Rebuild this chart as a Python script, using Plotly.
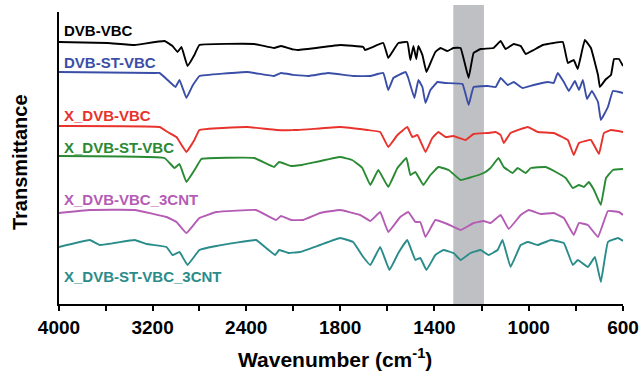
import plotly.graph_objects as go

# ---- data (wavenumber in cm-1, transmittance in arbitrary offset units) ----
dvb_vbc_wn = [4000, 3583, 3353, 3098, 3030, 2987, 2953, 2902, 2843, 2800, 2332, 2162, 2102, 1979, 1800,
              1702, 1694, 1617, 1596, 1579, 1553, 1515, 1502, 1489, 1477, 1468, 1451, 1434, 1417, 1396,
              1374, 1345, 1319, 1289, 1255, 1234, 1204, 1149, 1119, 1098, 1064, 1034, 1013, 979, 940,
              894, 855, 834, 809, 792, 762, 736, 706, 698, 672, 651, 638, 617, 600]
dvb_vbc_t = [262, 261, 259, 263, 258, 252, 257, 238, 249, 259, 260, 256, 258, 254, 259,
             257, 254, 261, 246, 252, 261, 262, 244, 258, 245, 258, 249, 232, 241, 252,
             256, 253, 256, 256, 226, 251, 255, 256, 263, 255, 260, 258, 250, 254, 259,
             261, 262, 241, 244, 235, 264, 256, 229, 217, 225, 229, 245, 245, 238]

dvb_st_vbc_wn = [4000, 3183, 3140, 3072, 3004, 2970, 2911, 2860, 2826, 2800, 2391, 2162, 2102, 1936, 1851,
                 1745, 1672, 1617, 1596, 1574, 1523, 1511, 1485, 1468, 1451, 1438, 1417, 1387, 1353, 1281,
                 1255, 1234, 1174, 1140, 1119, 1089, 1064, 1026, 979, 919, 894, 877, 851, 830, 804,
                 787, 770, 753, 732, 706, 694, 664, 643, 600]
dvb_st_vbc_t = [232, 231, 231, 224, 217, 224, 206, 218, 224, 228, 232, 228, 231, 228, 231,
                228, 228, 231, 214, 226, 232, 226, 206, 224, 217, 201, 214, 222, 221, 220,
                199, 217, 218, 217, 226, 219, 222, 216, 219, 222, 221, 231, 222, 213, 223,
                214, 224, 205, 213, 202, 184, 197, 213, 211]

x_dvb_vbc_wn = [4000, 3140, 3072, 2996, 2911, 2843, 2800, 2391, 2145, 1979, 1800, 1685, 1630, 1596, 1557,
                1515, 1494, 1472, 1438, 1409, 1383, 1353, 1319, 1268, 1234, 1174, 1140, 1119, 1106, 1077,
                1004, 962, 894, 834, 809, 787, 736, 702, 681, 651, 600]
x_dvb_vbc_t = [178, 177, 172, 167, 152, 164, 174, 177, 174, 174, 177, 174, 172, 157, 169,
               177, 167, 169, 152, 166, 172, 167, 168, 164, 170, 171, 172, 169, 161, 171,
               177, 172, 171, 164, 149, 161, 164, 150, 171, 174, 172]

x_dvb_st_vbc_wn = [4000, 3098, 3013, 2970, 2911, 2826, 2783, 2332, 2162, 2119, 2017, 1962, 1800, 1749, 1706,
                   1672, 1638, 1596, 1557, 1519, 1502, 1481, 1447, 1417, 1383, 1340, 1289, 1255, 1191, 1162,
                   1128, 1106, 1068, 1047, 1013, 991, 928, 885, 843, 813, 787, 766, 745, 723, 694,
                   672, 643, 600]
x_dvb_st_vbc_t = [148, 146, 136, 140, 122, 137, 145, 146, 137, 142, 138, 139, 147, 144, 136,
                  119, 134, 117, 136, 146, 129, 132, 119, 129, 137, 134, 124, 126, 131, 136,
                  146, 137, 131, 136, 131, 136, 137, 132, 126, 116, 119, 117, 122, 114, 99,
                  126, 134, 135]

x_dvb_vbc_3cnt_wn = [4000, 3736, 3353, 3081, 2996, 2911, 2800, 2655, 2315, 2145, 2102, 2017, 1957, 1885, 1800,
                     1715, 1672, 1630, 1596, 1545, 1511, 1481, 1460, 1438, 1396, 1345, 1289, 1234, 1191, 1162,
                     1119, 1085, 1034, 1000, 949, 894, 851, 809, 787, 749, 706, 664, 617, 600]
x_dvb_vbc_3cnt_t = [91, 94, 94, 87, 82, 71, 86, 92, 94, 84, 88, 84, 84, 91, 94,
                    89, 83, 92, 72, 87, 92, 82, 82, 67, 84, 80, 74, 81, 83, 81,
                    89, 75, 89, 94, 90, 91, 86, 69, 81, 79, 67, 93, 92, 89]

x_dvb_st_vbc_3cnt_wn = [4000, 3736, 3651, 3353, 3251, 3081, 3030, 2970, 2902, 2800, 2655, 2315, 2230, 2153, 2119,
                        2034, 1970, 1885, 1800, 1745, 1702, 1672, 1630, 1591, 1553, 1515, 1481, 1460, 1434, 1396,
                        1362, 1319, 1289, 1247, 1204, 1170, 1132, 1111, 1077, 1034, 1004, 962, 906, 851, 813,
                        792, 749, 719, 694, 664, 621, 600]
x_dvb_st_vbc_3cnt_t = [57, 64, 59, 64, 60, 57, 49, 52, 39, 54, 58, 64, 56, 49, 54,
                       51, 52, 59, 66, 62, 47, 39, 57, 34, 51, 64, 44, 46, 34, 49,
                       54, 51, 44, 51, 54, 49, 54, 64, 37, 59, 62, 59, 64, 61, 39,
                       44, 37, 47, 22, 62, 66, 63]

series_names = ["DVB-VBC", "DVB-ST-VBC", "X_DVB-VBC", "X_DVB-ST-VBC", "X_DVB-VBC_3CNT", "X_DVB-ST-VBC_3CNT"]
series_colors = ["#000000", "#3a4ea8", "#e8322c", "#2a8a34", "#b45cb4", "#2a8c8a"]
series_wn = [dvb_vbc_wn, dvb_st_vbc_wn, x_dvb_vbc_wn, x_dvb_st_vbc_wn, x_dvb_vbc_3cnt_wn, x_dvb_st_vbc_3cnt_wn]
series_t = [dvb_vbc_t, dvb_st_vbc_t, x_dvb_vbc_t, x_dvb_st_vbc_t, x_dvb_vbc_3cnt_t, x_dvb_st_vbc_3cnt_t]
label_y = [274, 242, 189, 157, 105, 28]

band_wn = [1320, 1190]

ticks_high = [4000, 3600, 3200, 2800, 2400, 2000]
ticks_high_text = ["4000", "", "3200", "", "2400", ""]
ticks_low = [1800, 1600, 1400, 1200, 1000, 800, 600]
ticks_low_text = ["1800", "", "1400", "", "1000", "", "600"]

FONT = "Liberation Sans, Arial, sans-serif"
split = 234 / 564

fig = go.Figure()
for name, col, wn, t in zip(series_names, series_colors, series_wn, series_t):
    for xa in ("x", "x2"):
        fig.add_trace(go.Scatter(x=wn, y=t, mode="lines", name=name, xaxis=xa, yaxis="y",
                                 line=dict(color=col, width=1.9, shape="spline", smoothing=0.25),
                                 showlegend=False, hoverinfo="skip"))

for name, col, ly in zip(series_names, series_colors, label_y):
    fig.add_annotation(x=0.005, xref="paper", y=ly, yref="y", text=name, showarrow=False,
                       xanchor="left", yanchor="middle",
                       font=dict(family=FONT, size=15, color=col, weight="bold"))

fig.add_shape(type="rect", xref="x2", yref="paper", x0=band_wn[0], x1=band_wn[1], y0=0, y1=1.024,
              fillcolor="#bfc0c3", line=dict(width=0), layer="below")

axis_common = dict(showline=True, linecolor="black", linewidth=1.5, ticks="outside", ticklen=5,
                   tickwidth=1.5, tickcolor="black", showgrid=False, zeroline=False,
                   tickfont=dict(family=FONT, size=19, color="black", weight="bold"), automargin=False)

fig.update_layout(
    width=640, height=371, paper_bgcolor="white", plot_bgcolor="white",
    margin=dict(l=59, r=17, t=12, b=67),
    xaxis=dict(domain=[0, split], range=[4000, 2000], tickmode="array", tickvals=ticks_high,
               ticktext=ticks_high_text, anchor="y", **axis_common),
    xaxis2=dict(domain=[split, 1], range=[2000, 600], tickmode="array", tickvals=ticks_low,
                ticktext=ticks_low_text, anchor="y", **axis_common),
    yaxis=dict(range=[0, 292], showline=True, linecolor="black", linewidth=1.5, showticklabels=False,
               ticks="", showgrid=False, zeroline=False, anchor="x"),
    showlegend=False,
)

fig.add_annotation(x=0.49, xref="paper", y=-0.185, yref="paper", yanchor="middle",
                   text="Wavenumber (cm<sup>-1</sup>)", showarrow=False,
                   font=dict(family=FONT, size=21, color="black", weight="bold"))
fig.add_annotation(x=-0.068, xref="paper", y=0.485, yref="paper", textangle=-90,
                   text="Transmittance", showarrow=False, xanchor="center", yanchor="middle",
                   font=dict(family=FONT, size=20, color="black", weight="bold"))

fig.write_html("out.html", config={"displayModeBar": False},
               post_script="document.body.style.margin='0px';")
